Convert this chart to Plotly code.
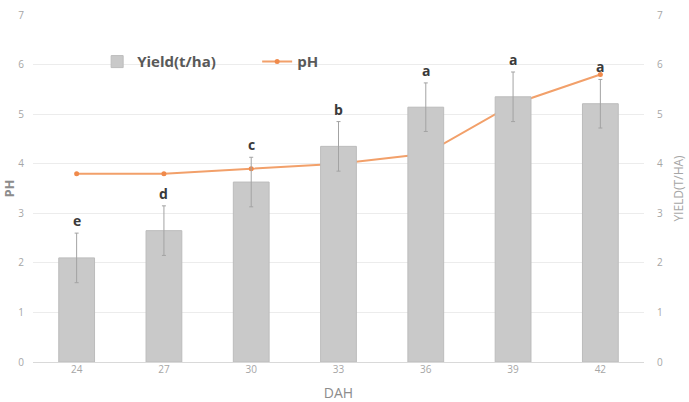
import plotly.graph_objects as go

dah = ["24", "27", "30", "33", "36", "39", "42"]
yield_t = [2.1, 2.65, 3.63, 4.35, 5.14, 5.35, 5.21]
yield_err = [0.5, 0.5, 0.5, 0.5, 0.49, 0.5, 0.49]
ph = [3.8, 3.8, 3.9, 4.0, 4.2, 5.2, 5.8]
letters = ["e", "d", "c", "b", "a", "a", "a"]

tick_font = dict(family="Open Sans, sans-serif", size=10, color="#a6a6a6")

fig = go.Figure()
fig.add_trace(go.Bar(
    x=dah, y=yield_t, name="Yield(t/ha)", yaxis="y2",
    marker=dict(color="#c9c9c9", line=dict(color="#bcbcbc", width=1)),
    width=0.41,
    error_y=dict(type="data", array=yield_err, color="#a3a3a3", thickness=1, width=2),
))
fig.add_trace(go.Scatter(
    x=dah, y=ph, name="pH", mode="lines+markers",
    line=dict(color="#f2a06a", width=2),
    marker=dict(color="#f08a4b", size=5),
))

for i, (yi, ei, t) in enumerate(zip(yield_t, yield_err, letters)):
    fig.add_annotation(x=i, xref="x", y=yi + ei, yref="y2", text=t, showarrow=False,
                       yanchor="bottom", yshift=1,
                       font=dict(family="Open Sans, sans-serif", size=14, color="#3a3a3a", weight="bold"))

fig.update_layout(
    width=689, height=402,
    margin=dict(l=33, r=45, t=15, b=40),
    paper_bgcolor="white", plot_bgcolor="white",
    showlegend=True,
    legend=dict(orientation="h", x=0.105, y=0.865, xanchor="left", yanchor="middle",
                entrywidth=115, entrywidthmode="pixels",
                font=dict(family="Open Sans, sans-serif", size=15, color="#595959", weight="bold"),
                bgcolor="rgba(0,0,0,0)"),
    xaxis=dict(type="category", tickfont=tick_font, showgrid=False, ticks="", tickangle=0,
               automargin=False,
               title=dict(text="DAH", font=dict(family="Open Sans, sans-serif", size=14, color="#8c8c8c"), standoff=30),
               showline=False),
    yaxis=dict(range=[0, 7], dtick=1, tickfont=tick_font, gridcolor="#ececec",
               automargin=False,
               zeroline=True, zerolinecolor="#d9d9d9", zerolinewidth=1,
               title=dict(text="PH", font=dict(family="Open Sans, sans-serif", size=13, color="#8c8c8c", weight="bold"), standoff=2),
               ticklabelstandoff=8),
    yaxis2=dict(range=[0, 7], dtick=1, tickfont=tick_font, overlaying="y", side="right",
                showgrid=False, zeroline=False, automargin=False,
                title=dict(text="YIELD(T/HA)", font=dict(family="Open Sans, sans-serif", size=12, color="#a6a6a6"), standoff=12),
                ticklabelstandoff=12),
    bargap=0.59,
)

fig.write_html("out.html")
